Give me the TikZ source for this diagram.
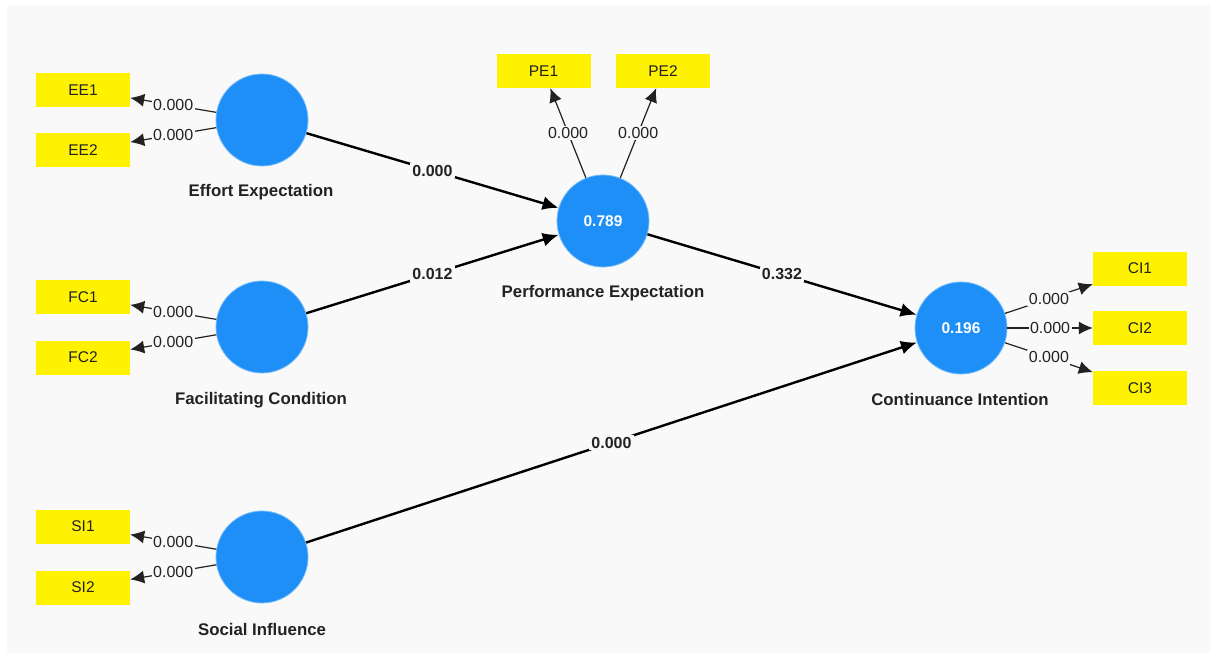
\documentclass[tikz,border=0pt]{standalone}
\usepackage{fontspec}
\setmainfont{Liberation Sans}
\usetikzlibrary{arrows.meta}
\definecolor{bg}{HTML}{F9F9F9}
\definecolor{lvc}{HTML}{1E8FF7}
\definecolor{txt}{HTML}{222222}
\begin{document}
\begin{tikzpicture}[x=1pt,y=-1pt,
  lv/.style={circle, fill=lvc, draw=lvc!60!white, line width=0.8pt, minimum size=92pt, inner sep=0pt, text=white, font=\bfseries\fontsize{15.5}{18}\selectfont},
  indbox/.style={rectangle, fill=yellow, minimum width=94pt, minimum height=34pt, inner sep=0pt, text=txt, font=\fontsize{15.5}{18}\selectfont},
  lvname/.style={text=txt, font=\bfseries\fontsize{16.8}{20}\selectfont},
  loadarr/.style={-{Latex[length=14pt,width=13pt]}, line width=1.2pt, draw=txt},
  patharr/.style={-{Latex[length=16pt,width=14pt]}, line width=2.4pt, draw=black},
  ltxt/.style={fill=bg, inner sep=1.5pt, text=txt, font=\fontsize{16}{18}\selectfont},
  ptxt/.style={fill=bg, inner sep=2pt, text=txt, font=\bfseries\fontsize{16}{18}\selectfont}
]
\fill[white] (0,0) rectangle (1210,658);
\fill[bg] (7,5) rectangle (1210,653);
\useasboundingbox (0,0) rectangle (1210,658);

% latent variables
\node[lv] (ee) at (262,120) {};
\node[lv] (fc) at (262,327) {};
\node[lv] (si) at (262,557) {};
\node[lv] (pe) at (603,221) {0.789};
\node[lv] (ci) at (961,328) {0.196};

% names
\node[lvname] (een) at (261,192) {Effort Expectation};
\node[lvname] (fcn) at (261,400) {Facilitating Condition};
\node[lvname] (sin) at (262,629) {Social Influence};
\node[lvname] (pen) at (603,293) {Performance Expectation};
\node[lvname] (cin) at (960,399) {Continuance Intention};

% indicators
\node[indbox] (ee1) at (83,90) {EE1};
\node[indbox] (ee2) at (83,150) {EE2};
\node[indbox] (fc1) at (83,297) {FC1};
\node[indbox] (fc2) at (83,357.5) {FC2};
\node[indbox] (si1) at (83,526.5) {SI1};
\node[indbox] (si2) at (83,587.5) {SI2};
\node[indbox] (pe1) at (543.5,71) {PE1};
\node[indbox] (pe2) at (663,71) {PE2};
\node[indbox] (ci1) at (1140,268.5) {CI1};
\node[indbox] (ci2) at (1140,328) {CI2};
\node[indbox] (ci3) at (1140,388) {CI3};

% loadings
\draw[loadarr] (ee) -- node[ltxt] {0.000} (ee1);
\draw[loadarr] (ee) -- node[ltxt] {0.000} (ee2);
\draw[loadarr] (fc) -- node[ltxt] {0.000} (fc1);
\draw[loadarr] (fc) -- node[ltxt] {0.000} (fc2);
\draw[loadarr] (si) -- node[ltxt] {0.000} (si1);
\draw[loadarr] (si) -- node[ltxt] {0.000} (si2);
\draw[loadarr] (pe) -- node[ltxt] {0.000} (pe1);
\draw[loadarr] (pe) -- node[ltxt] {0.000} (pe2);
\draw[loadarr] (ci) -- node[ltxt] {0.000} (ci1);
\draw[loadarr] (ci) -- node[ltxt] {0.000} (ci2);
\draw[loadarr] (ci) -- node[ltxt] {0.000} (ci3);

% structural paths
\draw[patharr] (ee) -- node[ptxt] {0.000} (pe);
\draw[patharr] (fc) -- node[ptxt] {0.012} (pe);
\draw[patharr] (pe) -- node[ptxt] {0.332} (ci);
\draw[patharr] (si) -- node[ptxt] {0.000} (ci);
\end{tikzpicture}
\end{document}
